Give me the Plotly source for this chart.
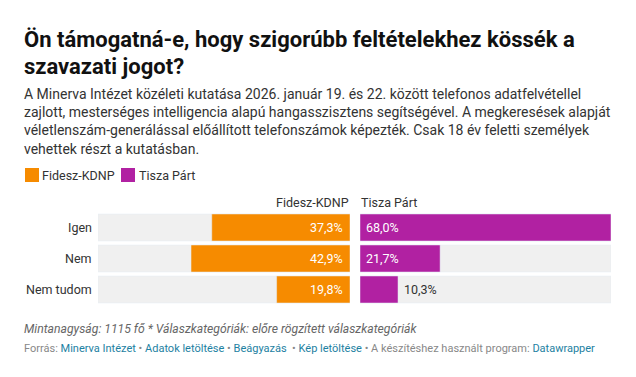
import plotly.graph_objects as go

categories = ["Igen", "Nem", "Nem tudom"]
fidesz = [37.3, 42.9, 19.8]
tisza = [68.0, 21.7, 10.3]
series_names = ["Fidesz-KDNP", "Tisza Párt"]
title_lines = ["Ön támogatná-e, hogy szigorúbb feltételekhez kössék a", "szavazati jogot?"]

# the page has an 8px body margin; figure sized to fit exactly inside 636x377
OFF = 8
W, H = 636 - 2 * OFF, 377 - 2 * OFF
ORANGE = "#f68b00"
PURPLE = "#b121a2"
BG = "#f0f0f0"
FONT = "Roboto"
DARK = "#333333"


def px(x):
    return (x - OFF) / W


def py(y):
    return 1 - (y - OFF) / H


vmax = max(fidesz + tisza)
fmt = lambda v: f"{v:.1f}".replace(".", ",") + "%"

fig = go.Figure()
bw = 27 / 31
fig.add_trace(go.Bar(y=categories, x=[vmax] * len(categories), orientation="h", marker_color=BG,
                     width=bw, xaxis="x", yaxis="y", hoverinfo="skip", showlegend=False))
fig.add_trace(go.Bar(y=categories, x=[vmax] * len(categories), orientation="h", marker_color=BG,
                     width=bw, xaxis="x2", yaxis="y", hoverinfo="skip", showlegend=False))
fig.add_trace(go.Bar(y=categories, x=fidesz, orientation="h", marker_color=ORANGE, width=bw,
                     xaxis="x", yaxis="y", name=series_names[0], showlegend=False))
fig.add_trace(go.Bar(y=categories, x=tisza, orientation="h", marker_color=PURPLE, width=bw,
                     xaxis="x2", yaxis="y", name=series_names[1], showlegend=False))

ann = []
for c, v in zip(categories, fidesz):
    ann.append(dict(x=0, y=c, xref="x", yref="y", text=fmt(v), showarrow=False, xanchor="right",
                    xshift=-5, font=dict(family=FONT, size=12.5, color="white")))
for c, v in zip(categories, tisza):
    if v >= 15:
        ann.append(dict(x=0, y=c, xref="x2", yref="y", text=fmt(v), showarrow=False, xanchor="left",
                        xshift=4, font=dict(family=FONT, size=12.5, color="white")))
    else:
        ann.append(dict(x=v, y=c, xref="x2", yref="y", text=fmt(v), showarrow=False, xanchor="left",
                        xshift=4, font=dict(family=FONT, size=12.5, color=DARK)))
for c in categories:
    ann.append(dict(x=px(94), y=c, xref="paper", yref="y", text=c, showarrow=False, xanchor="right",
                    font=dict(family=FONT, size=12.5, color=DARK)))
ann.append(dict(x=px(351), y=py(202), xref="paper", yref="paper", text=series_names[0], showarrow=False,
                xanchor="right", yanchor="middle", font=dict(family=FONT, size=12.5, color=DARK)))
ann.append(dict(x=px(359), y=py(202), xref="paper", yref="paper", text=series_names[1], showarrow=False,
                xanchor="left", yanchor="middle", font=dict(family=FONT, size=12.5, color=DARK)))
ann.append(dict(x=px(40), y=py(175), xref="paper", yref="paper", text=series_names[0], showarrow=False,
                xanchor="left", yanchor="middle", font=dict(family=FONT, size=12.5, color=DARK)))
ann.append(dict(x=px(137), y=py(175), xref="paper", yref="paper", text=series_names[1], showarrow=False,
                xanchor="left", yanchor="middle", font=dict(family=FONT, size=12.5, color=DARK)))
for i, line in enumerate(title_lines):
    ann.append(dict(x=px(22), y=py(25 + 27 * i), xref="paper", yref="paper", align="left",
                    text=f"<b>{line}</b>", showarrow=False, xanchor="left", yanchor="top",
                    font=dict(family=FONT, size=22, color="#111111")))
ann.append(dict(x=px(22), y=py(84), xref="paper", yref="paper", align="left",
                text=("A Minerva Intézet közéleti kutatása 2026. január 19. és 22. között telefonos adatfelvétellel<br>"
                      "zajlott, mesterséges intelligencia alapú hangasszisztens segítségével. A megkeresések alapját<br>"
                      "véletlenszám-generálással előállított telefonszámok képezték. Csak 18 év feletti személyek<br>"
                      "vehettek részt a kutatásban."),
                showarrow=False, xanchor="left", yanchor="top",
                font=dict(family=FONT, size=14, color=DARK)))
ann.append(dict(x=px(22), y=py(329), xref="paper", yref="paper", align="left",
                text="<i>Mintanagyság: 1115 fő * Válaszkategóriák: előre rögzített válaszkategóriák</i>",
                showarrow=False, xanchor="left", yanchor="middle",
                font=dict(family=FONT, size=12.2, color="#666666")))
link = "#1d81a2"
grey = "#888888"
sep = f" <span style='color:{grey}'>•</span> "
footer = (f"<span style='color:{grey}'>Forrás:</span> "
          f"<span style='color:{link}'>Minerva Intézet</span>{sep}"
          f"<span style='color:{link}'>Adatok letöltése</span>{sep}"
          f"<span style='color:{link}'>Beágyazás</span> {sep}"
          f"<span style='color:{link}'>Kép letöltése</span>{sep}"
          f"<span style='color:{grey}'>A készítéshez használt program:</span> "
          f"<span style='color:{link}'>Datawrapper</span>")
ann.append(dict(x=px(22), y=py(348), xref="paper", yref="paper", align="left", text=footer,
                showarrow=False, xanchor="left", yanchor="middle",
                font=dict(family=FONT, size=11, color=grey)))

shapes = [
    dict(type="rect", xref="paper", yref="paper", x0=px(25), x1=px(39), y0=py(168), y1=py(182),
         fillcolor=ORANGE, line_width=0),
    dict(type="rect", xref="paper", yref="paper", x0=px(121), x1=px(135), y0=py(168), y1=py(182),
         fillcolor=PURPLE, line_width=0),
]

fig.update_layout(
    width=W, height=H, margin=dict(l=0, r=0, t=0, b=0),
    paper_bgcolor="white", plot_bgcolor="white",
    barmode="overlay", showlegend=False,
    font=dict(family=FONT),
    xaxis=dict(domain=[px(98), px(350)], range=[vmax, 0], visible=False, fixedrange=True),
    xaxis2=dict(domain=[px(360), px(611)], range=[0, vmax], visible=False, fixedrange=True),
    yaxis=dict(domain=[py(305), py(212)], range=[len(categories) - 0.5, -0.5], visible=False,
               type="category", categoryorder="array", categoryarray=categories, fixedrange=True),
    annotations=ann, shapes=shapes,
)
fig.write_html("out.html")
